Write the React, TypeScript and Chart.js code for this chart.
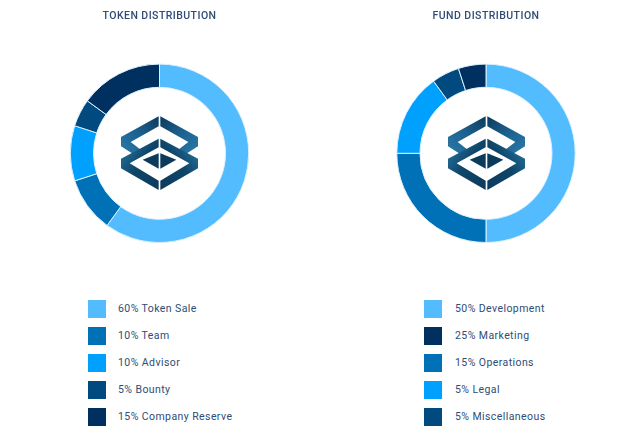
import React, { useEffect, useRef } from "react";
import { Chart, registerables } from "chart.js";

Chart.register(...registerables);

const LIGHT = "#52bcff";
const MEDIUM = "#0071b6";
const BRIGHT = "#00a0ff";
const DEEP = "#004a80";
const NAVY = "#00305f";

const tokenTitle = "TOKEN DISTRIBUTION";
const tokenLabels = ["Token Sale", "Team", "Advisor", "Bounty", "Company Reserve"];
const tokenValues = [60, 10, 10, 5, 15];
const tokenSliceColors = [LIGHT, MEDIUM, BRIGHT, DEEP, NAVY];
const tokenLegendColors = [LIGHT, MEDIUM, BRIGHT, DEEP, NAVY];

const fundTitle = "FUND DISTRIBUTION";
const fundLabels = ["Development", "Marketing", "Operations", "Legal", "Miscellaneous"];
const fundValues = [50, 25, 15, 5, 5];
const fundSliceColors = [LIGHT, MEDIUM, BRIGHT, DEEP, NAVY];
const fundLegendColors = [LIGHT, NAVY, MEDIUM, BRIGHT, DEEP];

const TEXT = "#2e4c76";
const FONT = "Roboto, 'Noto Sans', sans-serif";

const spacingPlugin = {
  id: "titleSpacing",
  beforeDraw(chart: any) {
    chart.ctx.letterSpacing = "0.45px";
  },
};

function Logo({ id, left }: { id: string; left: number }) {
  const a = `url(#${id}a)`;
  const b = `url(#${id}b)`;
  const c = `url(#${id}c)`;
  const d = `url(#${id}d)`;
  return (
    <svg
      viewBox="0 0 267 267"
      width={89}
      height={89}
      style={{ position: "absolute", left, top: 110 }}
    >
      <defs>
        <linearGradient id={`${id}a`} x1="0" y1="1" x2="1" y2="0">
          <stop offset="0" stopColor="#2a7cab" />
          <stop offset="0.55" stopColor="#1c5f8c" />
          <stop offset="1" stopColor="#0c3a5c" />
        </linearGradient>
        <linearGradient id={`${id}b`} x1="1" y1="1" x2="0" y2="0">
          <stop offset="0" stopColor="#2a7cab" />
          <stop offset="0.55" stopColor="#1c5f8c" />
          <stop offset="1" stopColor="#0c3a5c" />
        </linearGradient>
        <linearGradient id={`${id}c`} x1="0" y1="0" x2="1" y2="1">
          <stop offset="0" stopColor="#2a7cab" />
          <stop offset="0.5" stopColor="#0f4568" />
          <stop offset="1" stopColor="#0c3a5c" />
        </linearGradient>
        <linearGradient id={`${id}d`} x1="1" y1="0" x2="0" y2="1">
          <stop offset="0" stopColor="#2a7cab" />
          <stop offset="0.5" stopColor="#0f4568" />
          <stop offset="1" stopColor="#0c3a5c" />
        </linearGradient>
      </defs>
      <polygon points="131,19 18,81 18,109 65,139 85,125 47,96 131,49" fill={a} />
      <polygon points="136,19 249,81 249,109 202,139 182,125 220,96 136,49" fill={b} />
      <polygon points="131,86 18,146 18,175 131,240 131,212 44,160 131,112" fill={c} />
      <polygon points="136,86 249,146 249,175 136,240 136,212 223,160 136,112" fill={d} />
      <polygon points="131,130 83,149 131,176" fill="#0c3a5c" />
      <polygon points="136,130 184,149 136,176" fill="#0c3a5c" />
    </svg>
  );
}

function Donut({
  title,
  labels,
  values,
  colors,
  left,
  width,
}: {
  title: string;
  labels: string[];
  values: number[];
  colors: string[];
  left: number;
  width: number;
}) {
  const ref = useRef<HTMLCanvasElement | null>(null);
  useEffect(() => {
    const chart = new Chart(ref.current as HTMLCanvasElement, {
      type: "doughnut",
      data: {
        labels,
        datasets: [
          {
            data: values,
            backgroundColor: colors,
            borderColor: "#dcf0fd",
            borderWidth: 1,
          },
        ],
      },
      options: {
        animation: false,
        responsive: false,
        cutout: "74%",
        layout: { padding: 0 },
        plugins: {
          legend: { display: false },
          tooltip: { enabled: false },
          title: {
            display: true,
            text: title,
            color: TEXT,
            font: { family: FONT, size: 10.5, weight: "500" },
            padding: { top: 10, bottom: 41 },
          },
        },
      },
      plugins: [spacingPlugin],
    } as any);
    return () => chart.destroy();
  }, []);
  return (
    <canvas
      ref={ref}
      width={width}
      height={243}
      style={{ position: "absolute", left, top: 0, width, height: 243 }}
    />
  );
}

function Legend({
  labels,
  values,
  colors,
  boxLeft,
  textLeft,
}: {
  labels: string[];
  values: number[];
  colors: string[];
  boxLeft: number;
  textLeft: number;
}) {
  return (
    <>
      {labels.map((label, i) => (
        <React.Fragment key={label}>
          <div
            style={{
              position: "absolute",
              left: boxLeft,
              top: 300 + i * 27,
              width: 18,
              height: 18,
              background: colors[i],
            }}
          />
          <div
            style={{
              position: "absolute",
              left: textLeft,
              top: 301 + i * 27,
              height: 16,
              lineHeight: "16px",
              fontFamily: FONT,
              fontSize: 10.5,
              letterSpacing: "0.42px",
              color: TEXT,
              whiteSpace: "nowrap",
            }}
          >
            {values[i]}% {label}
          </div>
        </React.Fragment>
      ))}
    </>
  );
}

export default function App() {
  return (
    <div
      style={{
        position: "fixed",
        left: 0,
        top: 0,
        width: 640,
        height: 444,
        background: "#fff",
        overflow: "hidden",
      }}
    >
      <Donut
        title={tokenTitle}
        labels={tokenLabels}
        values={tokenValues}
        colors={tokenSliceColors}
        left={0}
        width={319}
      />
      <Logo id="l1" left={115} />
      <Legend
        labels={tokenLabels}
        values={tokenValues}
        colors={tokenLegendColors}
        boxLeft={88}
        textLeft={118}
      />
      <Donut
        title={fundTitle}
        labels={fundLabels}
        values={fundValues}
        colors={fundSliceColors}
        left={320}
        width={332}
      />
      <Logo id="l2" left={442} />
      <Legend
        labels={fundLabels}
        values={fundValues}
        colors={fundLegendColors}
        boxLeft={424}
        textLeft={455}
      />
    </div>
  );
}
